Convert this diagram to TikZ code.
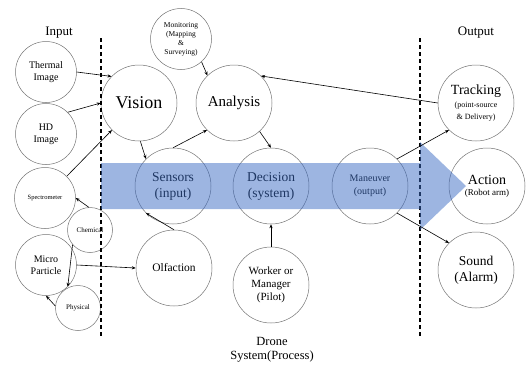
\documentclass[tikz,border=0pt]{standalone}
\usepackage{fontspec}
\setmainfont{Liberation Serif}
\usetikzlibrary{arrows.meta}
\newcommand{\fsz}[2]{\fontsize{#1}{#2}\selectfont}
\definecolor{flowblue}{RGB}{60,108,196}

\begin{document}
\begin{tikzpicture}[x=1pt,y=-1pt,
  bubble/.style={circle,draw=black!55,line width=0.5pt,inner sep=0pt,align=center},
  big/.style={bubble,minimum size=76pt},
  small/.style={bubble,minimum size=61pt},
  tiny/.style={bubble,minimum size=45pt},
  link/.style={-{Stealth[length=4pt,width=3.2pt]},line width=0.6pt},
  divider/.style={line width=1.1pt,dash pattern=on 4pt off 3pt}]

\useasboundingbox (0,0) rectangle (526,364);

% input side
\node[small,font=\fsz{10}{12}] (thermal) at (46,72) {Thermal\\Image};
\node[small,font=\fsz{10}{12}] (hd) at (46,134) {HD\\Image};
\node[small,font=\fsz{6.5}{8}] (spectro) at (45,198) {Spectrometer};
\node[tiny,font=\fsz{7}{8}] (chemical) at (90,230) {Chemical};
\node[small,font=\fsz{10}{11.5}] (micro) at (46,265) {Micro\\Particle};
\node[tiny,font=\fsz{7}{8}] (physical) at (78,308) {Physical};

% process
\node[big,font=\fsz{18}{18}] (vision) at (139,103) {Vision};
\node[small,font=\fsz{7.5}{9}] (monitor) at (181,39) {Monitoring\\(Mapping\\\&\\Surveying)};
\node[big,font=\fsz{15}{15}] (analysis) at (234,103) {Analysis};
\node[big,font=\fsz{13.5}{16}] (sensors) at (173,186) {Sensors\\(input)};
\node[big,font=\fsz{13.5}{16}] (decision) at (271,186) {Decision\\(system)};
\node[big,font=\fsz{10}{13}] (maneuver) at (370,186) {Maneuver\\(output)};
\node[big,font=\fsz{11.5}{13}] (olfaction) at (174,268) {Olfaction};
\node[big,font=\fsz{11}{13}] (worker) at (271,285) {Worker or\\Manager\\(Pilot)};

% output side
\node[big] (tracking) at (476,103) {\fsz{14}{14}Tracking\\[1pt]\fsz{8}{10}(point-source\\\fsz{8}{10}\& Delivery)};
\node[big] (action) at (487,186) {\fsz{14}{14}Action\\[-1pt]\fsz{9}{11}(Robot arm)};
\node[big,font=\fsz{13.5}{16}] (sound) at (476,270) {Sound\\(Alarm)};

\node[font=\fsz{13}{13}] (input) at (59,33) {Input};
\node[font=\fsz{13}{13}] (output) at (476,33) {Output};
\node[font=\fsz{12.5}{14},align=center] (drone) at (272,350) {Drone\\System(Process)};

\draw[divider] (101,38) -- (101,338);
\draw[divider] (420,38) -- (420,338);

\fill[flowblue,opacity=0.5] (101,163) -- (420,163) -- (420,142) -- (466,186)
  -- (420,230) -- (420,209) -- (101,209) -- cycle;

\draw[link] (thermal.east) -- (vision.136);
\draw[link] (hd.45) -- (vision.west);
\draw[link] (spectro.45) -- (vision.225);
\draw[link] (chemical.93) -- (spectro.east);
\draw[link] (chemical.220) -- (micro.-45);
\draw[link] (physical.175) -- (micro.south);
\draw[link] (micro.east) -- (olfaction.west);
\draw[link] (vision.-88) -- (sensors.135);
\draw[link] (sensors.north) -- (analysis.225);
\draw[link] (monitor.-48) -- (analysis.134);
\draw[link] (analysis.-48) -- (decision.north);
\draw[link] (tracking.west) -- (analysis.45);
\draw[link] (olfaction.north) -- (sensors.225);
\draw[link] (worker.north) -- (decision.south);
\draw[link] (maneuver.45) -- (tracking.225);
\draw[link] (maneuver.-45) -- (sound.135);
\end{tikzpicture}
\end{document}
